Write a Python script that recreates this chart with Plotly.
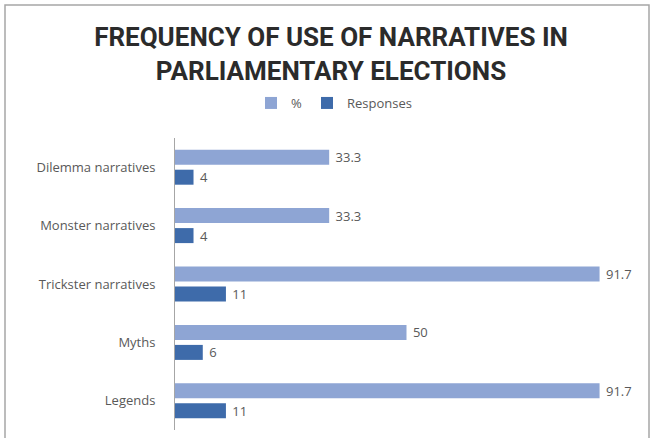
import plotly.graph_objects as go

categories = ["Dilemma narratives", "Monster narratives", "Trickster narratives", "Myths", "Legends"]
pct_values = [33.3, 33.3, 91.7, 50, 91.7]
pct_labels = ["33.3", "33.3", "91.7", "50", "91.7"]
resp_values = [4, 4, 11, 6, 11]
resp_labels = ["4", "4", "11", "6", "11"]
series_names = ["%", "Responses"]
title_text = "FREQUENCY OF USE OF NARRATIVES IN<br>PARLIAMENTARY ELECTIONS"

W, H = 651, 438
ML, MR, MT, MB = 175, 13, 138, 8
PW, PH = W - ML - MR, H - MT - MB

def px_x(px):
    return (px - ML) / PW

def px_y(py):
    return (H - MB - py) / PH

LIGHT = "#8EA5D4"
DARK = "#3E6BAA"
TXT = "#595959"
FONT = "Open Sans, sans-serif"

fig = go.Figure()
fig.add_trace(go.Bar(
    y=categories, x=pct_values, name=series_names[0], orientation="h",
    marker=dict(color=LIGHT, line=dict(width=0)),
    text=[" " + t for t in pct_labels], textposition="outside", constraintext="none",
    textfont=dict(color=TXT, size=13, family=FONT), cliponaxis=False,
))
fig.add_trace(go.Bar(
    y=categories, x=resp_values, name=series_names[1], orientation="h",
    marker=dict(color=DARK, line=dict(width=0)),
    text=[" " + t for t in resp_labels], textposition="outside", constraintext="none",
    textfont=dict(color=TXT, size=13, family=FONT), cliponaxis=False,
))

fig.update_layout(
    width=W, height=H,
    margin=dict(l=ML, r=MR, t=MT, b=MB),
    paper_bgcolor="white", plot_bgcolor="white",
    barmode="group", bargap=0.315, bargroupgap=0.25,
    title=dict(
        text="<b>" + title_text + "</b>",
        xref="container", x=331 / W, xanchor="center",
        yref="container", y=1 - 46 / H, yanchor="top",
        font=dict(family="Roboto, sans-serif", size=26, color="#2B2B2B"),
    ),
    legend=dict(
        orientation="h", xref="container", x=334 / W, xanchor="center",
        yref="container", y=1 - 103 / H, yanchor="middle",
        font=dict(family=FONT, size=13, color=TXT),
        itemwidth=30,
    ),
    xaxis=dict(range=[0, 100], showgrid=False, zeroline=False, showticklabels=False,
               showline=False, ticks=""),
    yaxis=dict(autorange="reversed", showgrid=False, zeroline=False, showline=True,
               linecolor="#A6A6A6", linewidth=1, ticks="", ticklabelstandoff=16,
               tickfont=dict(family=FONT, size=13, color=TXT)),
    uniformtext=dict(mode=False),
    shapes=[dict(type="rect", xref="paper", yref="paper",
                 x0=px_x(5), x1=px_x(649), y0=px_y(445), y1=px_y(5),
                 line=dict(color="#A6A6A6", width=1.5), layer="below")],
)

fig.write_html("out.html")
